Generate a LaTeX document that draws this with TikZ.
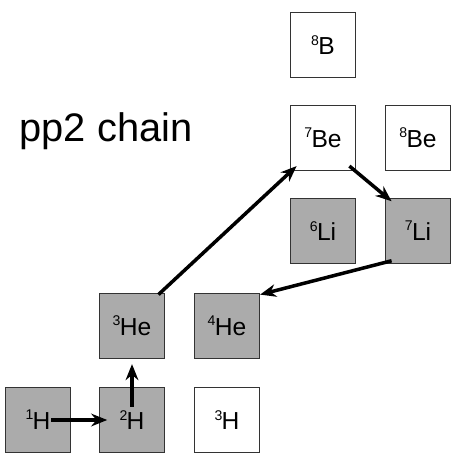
\documentclass[tikz,border=0pt]{standalone}
\usepackage{fontspec}
\setmainfont{Liberation Sans}
\usepackage{tikz}
\usetikzlibrary{arrows.meta}
\newcommand{\iso}[2]{\raisebox{0.75ex}{\fontsize{12}{12}\selectfont #1}\kern-0.5pt #2}

\begin{document}
\begin{tikzpicture}[x=0.3mm,y=-0.3mm,
  nuc/.style={draw=black!80,line width=1pt,minimum size=19.5mm,inner sep=0pt,font=\fontsize{21}{21}\selectfont},
  burnt/.style={nuc,fill=black!33},
  flow/.style={line width=3pt,-{Stealth[length=4.8mm,width=3.8mm]}}]
\useasboundingbox (0,0) rectangle (462,461);
\node at (106,131) {\fontsize{34}{34}\selectfont pp2 chain};
% light nuclei
\node[burnt] (h1) at (38,420) {\iso{1}{H}};
\node[burnt] (h2) at (132,420) {\iso{2}{H}};
\node[nuc] (h3) at (227,420) {\iso{3}{H}};
\node[burnt] (he3) at (132,326) {\iso{3}{He}};
\node[burnt] (he4) at (227,326) {\iso{4}{He}};
% heavier
\node[burnt] (li6) at (323,231) {\iso{6}{Li}};
\node[burnt] (li7) at (418,231) {\iso{7}{Li}};
\node[nuc] (be7) at (323,138) {\iso{7}{Be}};
\node[nuc] (be8) at (418,138) {\iso{8}{Be}};
\node[nuc] (b8) at (323,45) {\iso{8}{B}};
\draw[flow] ([xshift=-6mm]h1.east) -- ([xshift=2.5mm]h2.west);
\draw[flow] ([yshift=-6mm]h2.north) -- ([yshift=-1.5mm]he3.south);
\draw[flow] ([shift={(-2mm,-0.5mm)}]he3.north east) -- ([shift={(2mm,1.5mm)}]be7.south west);
\draw[flow] ([shift={(-2mm,1.5mm)}]be7.south east) -- ([shift={(2mm,-1mm)}]li7.north west);
\draw[flow] ([shift={(2mm,1mm)}]li7.south west) -- ([shift={(0mm,-0.5mm)}]he4.north east);
\end{tikzpicture}
\end{document}
